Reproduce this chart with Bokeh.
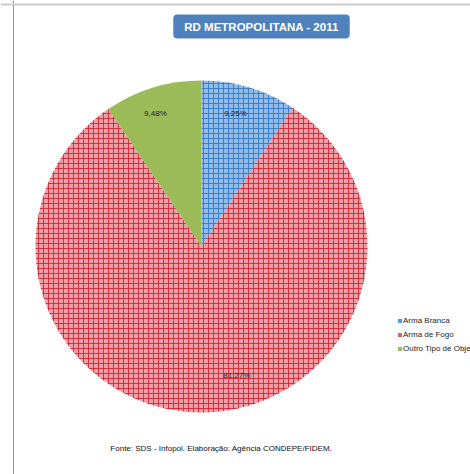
import math
from bokeh.plotting import figure
from bokeh.models import Label, Span, Legend, LegendItem
from bokeh.embed import file_html
from bokeh.resources import INLINE

title_text = "RD METROPOLITANA - 2011"
categories = ["Arma Branca", "Arma de Fogo", "Outro Tipo de Objeto"]
percents = [9.25, 81.27, 9.48]
pct_labels = ["9,25%", "81,27%", "9,48%"]
fill_colors = ["#92bce6", "#eba0a8", "#9bbb59"]
hatch_colors = ["#2f78c8", "#d2202e", "#9bbb59"]
legend_colors = ["#5b9bd5", "#e0606a", "#9bbb59"]
source_text = "Fonte:  SDS - Infopol. Elaboração: Agência  CONDEPE/FIDEM."

W, H = 470, 474
p = figure(width=W, height=H, x_range=(0, W), y_range=(0, H),
           output_backend="svg", toolbar_location=None, min_border=0)
p.axis.visible = False
p.grid.visible = False
p.outline_line_color = None
p.background_fill_color = "white"

cx, cy, R = 201, 228, 166
total = sum(percents)
starts, ends, mids = [], [], []
a = math.pi / 2
for v in percents:
    sweep = 2 * math.pi * v / total
    starts.append(a - sweep)
    ends.append(a)
    mids.append(a - sweep / 2)
    a -= sweep

items = []
for i, cat in enumerate(categories):
    hp = "+" if i < 2 else " "
    p.wedge(x=cx, y=cy, radius=R, radius_units="screen",
            start_angle=starts[i], end_angle=ends[i],
            fill_color=fill_colors[i], line_color=None,
            hatch_pattern=hp, hatch_color=hatch_colors[i],
            hatch_scale=5, hatch_weight=1, hatch_alpha=0.85)
    # solid legend swatch renderer (hidden on the plot)
    sw = p.wedge(x=cx, y=cy, radius=R, radius_units="screen",
                 start_angle=starts[i], end_angle=ends[i],
                 fill_color=legend_colors[i], line_color=None, visible=False)
    items.append(LegendItem(label=cat, renderers=[sw]))

# percentage labels
label_nudge = [0.04, 0.26, 0.035]
label_r = [0.826, 0.805, 0.85]
for i in range(3):
    ang = mids[i] + label_nudge[i]
    lx = cx + label_r[i] * R * math.cos(ang)
    ly = cy + label_r[i] * R * math.sin(ang)
    p.add_layout(Label(x=lx, y=ly, text=pct_labels[i], text_font="Liberation Sans",
                       text_font_size="8px", text_color="#222222",
                       text_align="center", text_baseline="middle"))

legend = Legend(items=items, location=(397, 121), orientation="vertical",
                label_text_font="Liberation Sans", label_text_font_size="8px",
                label_text_color="#222222", glyph_width=5, glyph_height=5,
                label_standoff=1, spacing=5, padding=0, margin=0,
                border_line_color=None, background_fill_alpha=0,
                label_height=9, inactive_fill_alpha=0)
p.add_layout(legend, "center")

p.add_layout(Label(x=261, y=448, text=title_text, text_font="Liberation Sans",
                   text_font_style="bold", text_font_size="11.5px", text_color="white",
                   text_align="center", text_baseline="middle",
                   background_fill_color="#4f81bd", border_radius=4,
                   padding=(11, 6)))

p.add_layout(Label(x=223, y=26, text=source_text, text_font="Liberation Sans",
                   text_font_size="8px", text_color="#111111",
                   text_align="center", text_baseline="middle"))

p.add_layout(Span(location=13, dimension="height", line_color="#999999", line_width=1))
p.add_layout(Span(location=H - 4, dimension="width", line_color="#cccccc", line_width=2))

open("out.html", "w").write(file_html(p, INLINE))
